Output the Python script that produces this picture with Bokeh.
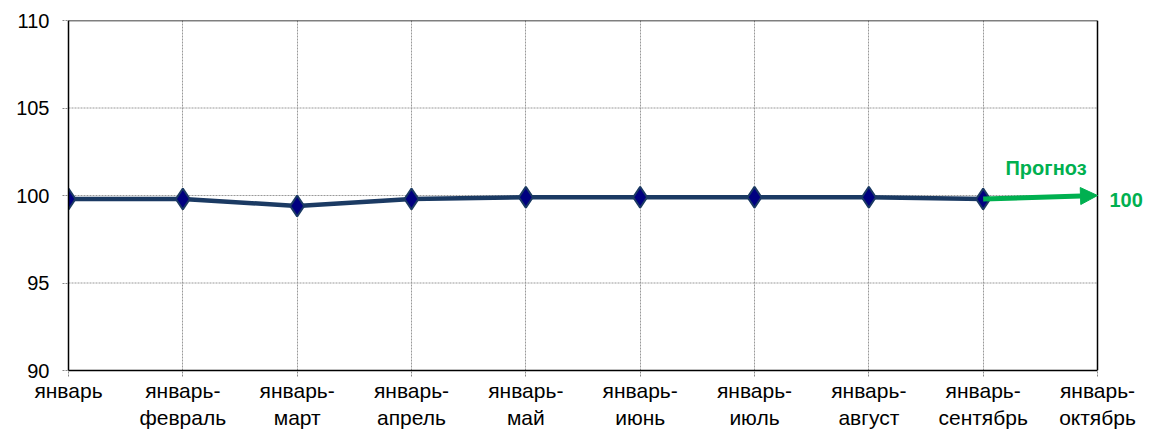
from bokeh.plotting import figure
from bokeh.models import FixedTicker, Range1d, Arrow, NormalHead, Label
from bokeh.embed import file_html
from bokeh.resources import INLINE

categories = ["январь", "январь-\nфевраль", "январь-\nмарт", "январь-\nапрель", "январь-\nмай",
              "январь-\nиюнь", "январь-\nиюль", "январь-\nавгуст", "январь-\nсентябрь", "январь-\nоктябрь"]
values = [99.8, 99.8, 99.4, 99.8, 99.9, 99.9, 99.9, 99.9, 99.8]
forecast = [99.8, 100.0]
forecast_label = "Прогноз"
forecast_value_label = "100"
y_ticks = [90, 95, 100, 105, 110]

FONT = "Liberation Sans"
n = len(categories)
last = n - 1
ymin, ymax = 90, 110
W, H = 1152, 432
LEFT, RIGHT_EDGE = 68, 1097
unit = (RIGHT_EDGE - LEFT) / last

p = figure(width=W, height=H, output_backend="svg", toolbar_location=None,
           x_range=Range1d(0, last + (W - RIGHT_EDGE) / unit), y_range=Range1d(ymin, ymax),
           min_border_left=LEFT, min_border_right=0, min_border_top=20, min_border_bottom=62)
p.outline_line_color = None
p.background_fill_color = "white"
p.border_fill_color = "white"

# grid
p.xgrid.ticker = FixedTicker(ticks=list(range(1, last)))
p.xgrid.grid_line_color = "#999999"
p.xgrid.grid_line_dash = "2 1"
p.ygrid.grid_line_color = None
gy = y_ticks[1:-1]
p.segment(x0=[0] * len(gy), y0=gy, x1=[last] * len(gy), y1=gy,
          line_color="#999999", line_dash="2 1", line_width=1)

# frame (top and right)
p.segment(x0=[0, last], y0=[ymax, ymin], x1=[last, last], y1=[ymax, ymax],
          line_color="black", line_width=1.5)

xs = list(range(len(values)))
p.line(xs, values, line_color="#1B3A63", line_width=4.5)
p.scatter(xs, values, marker="diamond", size=21, fill_color="#000080", line_color="#1B3A63", line_width=2)

fx = [len(values) - 1, len(values)]
p.add_layout(Arrow(end=NormalHead(size=17, fill_color="#00B050", line_color="#00B050"),
                   x_start=fx[0], y_start=forecast[0], x_end=fx[1], y_end=forecast[1],
                   line_color="#00B050", line_width=5))
p.add_layout(Label(x=8.55, y=101.55, text=forecast_label, text_align="center",
                   text_baseline="middle", text_color="#00B050", text_font_style="bold",
                   text_font=FONT, text_font_size="20px"))
p.add_layout(Label(x=fx[1], y=forecast[1], x_offset=12, y_offset=-4, text=forecast_value_label,
                   text_align="left", text_baseline="middle", text_color="#00B050",
                   text_font_style="bold", text_font=FONT, text_font_size="20px"))

p.xaxis.ticker = FixedTicker(ticks=list(range(n)))
p.xaxis.major_label_overrides = {i: c for i, c in enumerate(categories)}
p.xaxis.bounds = (0, last)
p.yaxis.ticker = FixedTicker(ticks=y_ticks)
for ax in (p.xaxis, p.yaxis):
    ax.major_label_text_font = FONT
    ax.major_label_text_color = "black"
    ax.axis_line_color = "black"
    ax.axis_line_width = 1.5
    ax.major_tick_line_color = "#888888"
    ax.major_tick_line_dash = "2 1"
    ax.major_tick_in = 0
    ax.major_tick_out = 6
    ax.minor_tick_line_color = None
p.xaxis.major_label_text_font_size = "21px"
p.yaxis.major_label_text_font_size = "20px"
p.xaxis.major_label_standoff = 2
p.yaxis.major_label_standoff = 13

open("out.html", "w").write(file_html(p, INLINE))
